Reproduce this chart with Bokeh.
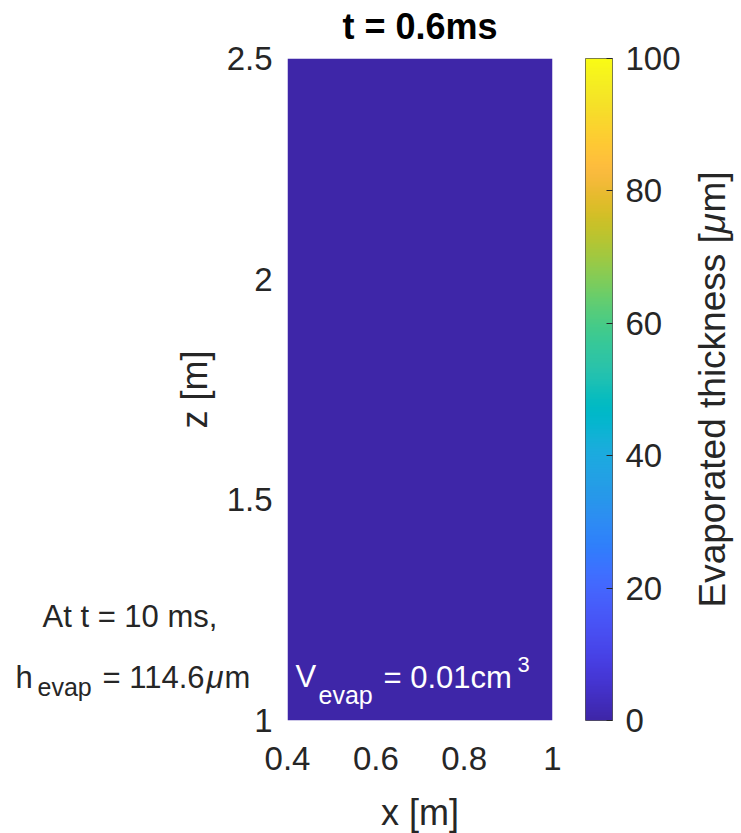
import numpy as np
from bokeh.plotting import figure
from bokeh.layouts import row
from bokeh.models import LinearColorMapper, FixedTicker, Label
from bokeh.embed import file_html
from bokeh.resources import INLINE

# ---- data -------------------------------------------------------------
x_limits = [0.4, 1.0]          # x [m]
z_limits = [1.0, 2.5]          # z [m]
# evaporated thickness [um] on the wall at t = 0.6 ms (nothing evaporated yet)
thickness = [[0.0, 0.0, 0.0],
             [0.0, 0.0, 0.0],
             [0.0, 0.0, 0.0]]
x_ticks = [0.4, 0.6, 0.8, 1.0]
z_ticks = [1.0, 1.5, 2.0, 2.5]
cbar_limits = [0, 100]
cbar_ticks = [0, 20, 40, 60, 80, 100]
title_text = "t = 0.6ms"
x_label = "x [m]"
z_label = "z [m]"
cbar_label_parts = ["Evaporated thickness [", "\u03bc", "m]"]
note_time = "At t = 10 ms,"
h_evap_value = "114.6"
v_evap_value = "0.01"

# ---- parula colormap --------------------------------------------------
parula_rgb = np.array([
    [0.2422, 0.1504, 0.6603], [0.2504, 0.1650, 0.7076], [0.2578, 0.1818, 0.7511],
    [0.2647, 0.1978, 0.7952], [0.2706, 0.2147, 0.8364], [0.2751, 0.2342, 0.8710],
    [0.2783, 0.2559, 0.8991], [0.2803, 0.2782, 0.9221], [0.2813, 0.3006, 0.9414],
    [0.2810, 0.3228, 0.9579], [0.2795, 0.3447, 0.9717], [0.2760, 0.3667, 0.9829],
    [0.2699, 0.3892, 0.9906], [0.2602, 0.4123, 0.9952], [0.2440, 0.4358, 0.9988],
    [0.2206, 0.4603, 0.9973], [0.1963, 0.4847, 0.9892], [0.1834, 0.5074, 0.9798],
    [0.1786, 0.5289, 0.9682], [0.1764, 0.5499, 0.9520], [0.1687, 0.5703, 0.9359],
    [0.1540, 0.5902, 0.9218], [0.1460, 0.6091, 0.9079], [0.1380, 0.6276, 0.8973],
    [0.1248, 0.6459, 0.8883], [0.1113, 0.6635, 0.8763], [0.0952, 0.6798, 0.8598],
    [0.0689, 0.6948, 0.8394], [0.0297, 0.7082, 0.8163], [0.0036, 0.7203, 0.7917],
    [0.0067, 0.7312, 0.7660], [0.0433, 0.7411, 0.7394], [0.0964, 0.7500, 0.7120],
    [0.1408, 0.7584, 0.6842], [0.1717, 0.7670, 0.6554], [0.1938, 0.7758, 0.6251],
    [0.2161, 0.7843, 0.5923], [0.2470, 0.7918, 0.5567], [0.2906, 0.7973, 0.5188],
    [0.3406, 0.8008, 0.4789], [0.3909, 0.8029, 0.4354], [0.4456, 0.8024, 0.3909],
    [0.5044, 0.7993, 0.3480], [0.5616, 0.7942, 0.3045], [0.6174, 0.7876, 0.2612],
    [0.6720, 0.7793, 0.2227], [0.7242, 0.7698, 0.1910], [0.7738, 0.7598, 0.1646],
    [0.8203, 0.7498, 0.1535], [0.8634, 0.7406, 0.1596], [0.9035, 0.7330, 0.1774],
    [0.9393, 0.7288, 0.2100], [0.9728, 0.7298, 0.2394], [0.9956, 0.7434, 0.2371],
    [0.9970, 0.7659, 0.2199], [0.9952, 0.7893, 0.2028], [0.9892, 0.8136, 0.1885],
    [0.9786, 0.8386, 0.1766], [0.9676, 0.8639, 0.1643], [0.9610, 0.8890, 0.1537],
    [0.9597, 0.9135, 0.1423], [0.9628, 0.9373, 0.1265], [0.9691, 0.9606, 0.1064],
    [0.9769, 0.9839, 0.0805]])
t_src = np.linspace(0, 1, len(parula_rgb))
t_dst = np.linspace(0, 1, 256)
parula = []
for t in t_dst:
    r, g, b = (np.interp(t, t_src, parula_rgb[:, k]) for k in range(3))
    parula.append("#%02x%02x%02x" % (round(r * 255), round(g * 255), round(b * 255)))

mapper = LinearColorMapper(palette=parula, low=cbar_limits[0], high=cbar_limits[1])

FONT = "Liberation Sans"
INK = "#262626"

# ---- geometry ---------------------------------------------------------
W, H = 741, 833
LEFT, FRAME_W, TOP, FRAME_H = 287, 265, 58, 662
MAIN_W = 570
CB_LEFT, CB_W = 15, 27
CB_TOTAL = W - MAIN_W

x_per_px = (x_limits[1] - x_limits[0]) / FRAME_W
z_per_px = (z_limits[1] - z_limits[0]) / FRAME_H


def sx(px):
    """canvas x pixel -> x data coordinate of the main axes"""
    return x_limits[0] + (px - LEFT) * x_per_px


def sy(py):
    """canvas y pixel -> z data coordinate of the main axes"""
    return z_limits[0] + (TOP + FRAME_H - py) * z_per_px


# ---- main panel -------------------------------------------------------
p = figure(width=MAIN_W, height=H, x_range=tuple(x_limits), y_range=tuple(z_limits),
           output_backend="svg", toolbar_location=None, title=None,
           min_border_left=LEFT, min_border_right=MAIN_W - LEFT - FRAME_W,
           min_border_top=TOP, min_border_bottom=H - TOP - FRAME_H)
p.outline_line_color = None
p.grid.visible = False
p.background_fill_color = "white"
p.border_fill_color = "white"

p.image(image=[np.array(thickness)], x=x_limits[0], y=z_limits[0],
        dw=x_limits[1] - x_limits[0], dh=z_limits[1] - z_limits[0],
        color_mapper=mapper)

for ax, ticks in ((p.xaxis, x_ticks), (p.yaxis, z_ticks)):
    ax.ticker = FixedTicker(ticks=ticks)
    ax.major_label_overrides = {v: f"{v:g}" for v in ticks}
    ax.axis_line_color = None
    ax.major_tick_out = 0
    ax.major_tick_in = 0
    ax.major_tick_line_color = None
    ax.minor_tick_line_color = None
    ax.major_label_text_font = FONT
    ax.major_label_text_font_size = "33px"
    ax.major_label_text_color = INK
    ax.axis_label_text_font = FONT
    ax.axis_label_text_font_size = "36px"
    ax.axis_label_text_font_style = "normal"
    ax.axis_label_text_color = INK

p.yaxis.axis_label = z_label
p.xaxis.major_label_standoff = 26
p.yaxis.major_label_standoff = 15
p.yaxis.axis_label_standoff = 9

# ---- colorbar ---------------------------------------------------------
cb = figure(width=CB_TOTAL, height=H, x_range=(0, 1), y_range=tuple(cbar_limits),
            output_backend="svg", toolbar_location=None,
            x_axis_location=None, y_axis_location="right",
            min_border_left=CB_LEFT, min_border_right=CB_TOTAL - CB_LEFT - CB_W,
            min_border_top=TOP, min_border_bottom=H - TOP - FRAME_H)
cb.grid.visible = False
cb.outline_line_color = "#555555"
cb.outline_line_width = 1
cb.border_fill_color = "white"

levels = np.linspace(cbar_limits[0], cbar_limits[1], 256).reshape(-1, 1)
cb.image(image=[levels], x=0, y=cbar_limits[0], dw=1,
         dh=cbar_limits[1] - cbar_limits[0], color_mapper=mapper)

ay = cb.yaxis
ay.ticker = FixedTicker(ticks=cbar_ticks)
ay.axis_line_color = None
ay.major_tick_in = 6
ay.major_tick_out = 0
ay.major_tick_line_color = INK
ay.minor_tick_line_color = None
ay.major_label_standoff = 13
ay.major_label_text_font = FONT
ay.major_label_text_font_size = "33px"
ay.major_label_text_color = INK

# ---- text layer over the whole figure (same x/z coordinates) ----------
ov = figure(width=W, height=H, x_range=(sx(0), sx(W)), y_range=(sy(H), sy(0)),
            output_backend="svg", toolbar_location=None, title=None,
            x_axis_location=None, y_axis_location=None, min_border=0,
            min_border_left=0, min_border_right=0, min_border_top=0,
            min_border_bottom=0,
            background_fill_color=None, border_fill_color=None,
            outline_line_color=None,
            styles={"position": "absolute", "left": "0px", "top": "0px",
                    "pointer-events": "none"})
ov.grid.visible = False
ov.frame_align = False


def add_text(x, y, text, size, color=INK, style="normal", align="left",
             angle=0.0):
    ov.add_layout(Label(x=x, y=y, text=text, text_font=FONT,
                        text_font_size=f"{size}px", text_color=color,
                        text_font_style=style, text_align=align,
                        text_baseline="middle", angle=angle))


mid_x = LEFT + FRAME_W / 2

# title and x-axis label
add_text(sx(mid_x), sy(26), title_text, 36, color="black", style="bold",
         align="center")
add_text(sx(mid_x), sy(812), x_label, 36, align="center")

# note: time and evaporated height
add_text(sx(42), sy(616), note_time, 31)
add_text(sx(15), sy(677), "h", 31)
add_text(sx(37), sy(686), "evap", 25)
add_text(sx(102), sy(677), "= " + h_evap_value, 31)
add_text(sx(206), sy(677), "\u03bc", 31, style="italic")
add_text(sx(224), sy(677), "m", 31)

# evaporated volume, drawn inside the field
add_text(sx(295), sy(676), "V", 31, color="white")
add_text(sx(318), sy(694), "evap", 25, color="white")
add_text(sx(383), sy(677), "= " + v_evap_value + "cm", 31, color="white")
add_text(sx(517), sy(664), "3", 22, color="white")

# colorbar label, written bottom to top (italic mu)
add_text(sx(712), sy(607), cbar_label_parts[0], 37, angle=np.pi / 2)
add_text(sx(712), sy(233), cbar_label_parts[1], 37, style="italic",
         angle=np.pi / 2)
add_text(sx(712), sy(212), cbar_label_parts[2], 37, angle=np.pi / 2)

layout = row(p, cb, ov)
open("out.html", "w").write(file_html(layout, INLINE))
